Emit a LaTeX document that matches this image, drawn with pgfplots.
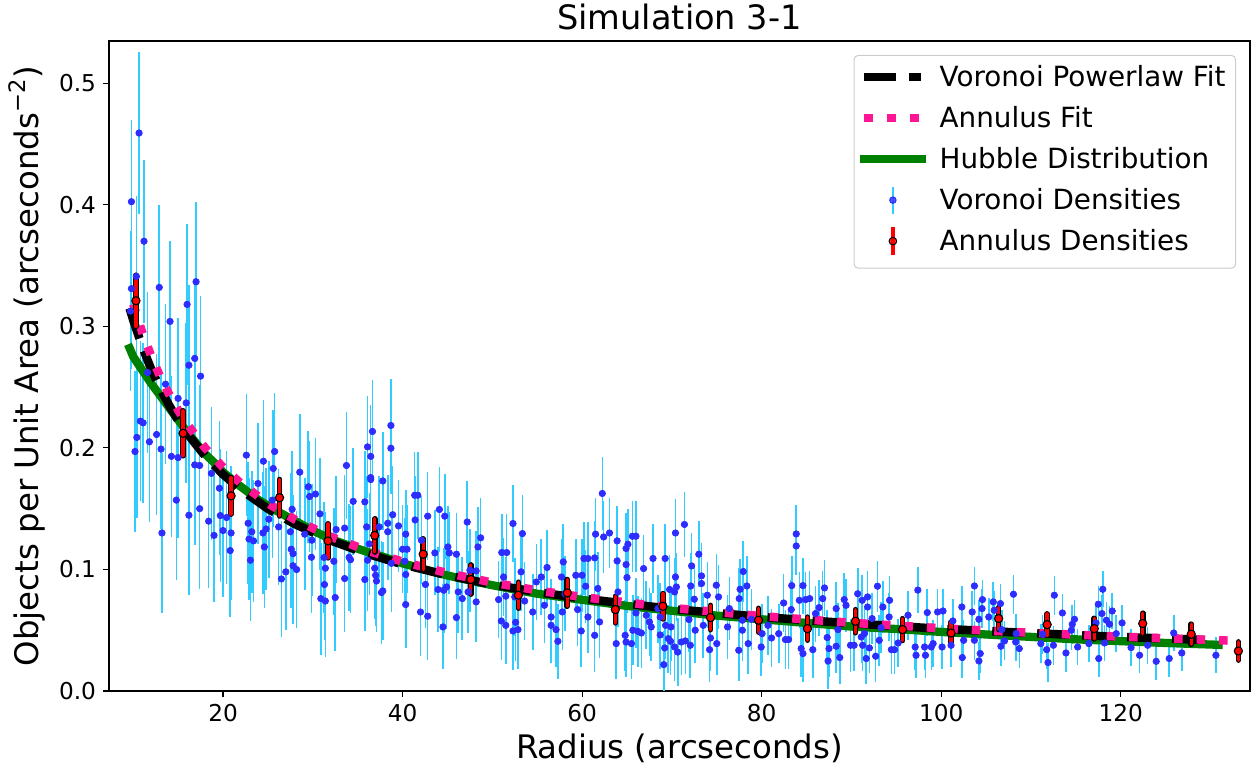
\documentclass[border=0pt]{standalone}
\usepackage{fontspec}
\setmainfont{DejaVu Sans}
\usepackage{pgfplots}
\usepackage{pgfplotstable}
\pgfplotsset{compat=1.18}
\definecolor{dsb}{RGB}{51,204,255}
\definecolor{mblue}{RGB}{45,45,255}
\definecolor{dpink}{RGB}{255,20,147}
\definecolor{dgreen}{RGB}{0,128,0}
\pgfplotsset{
  vbars/.style={/pgfplots/error bars/draw error bar/.code 2 args={\draw[dsb, line width=0.8pt, line cap=butt] ##1 -- ##2;}},
  kbars/.style={/pgfplots/error bars/draw error bar/.code 2 args={\draw[black, line width=2.8pt, line cap=round] ##1 -- ##2;}},
  rbars/.style={/pgfplots/error bars/draw error bar/.code 2 args={\draw[red, line width=1.7pt, line cap=round] ##1 -- ##2;}},
}

\pgfplotstableread{
x y e
9.7 0.3125 0.066
9.8 0.331 0.066
9.8 0.4025 0.067
10.2 0.197 0.066
10.35 0.341 0.066
10.4 0.2086 0.066
10.65 0.459 0.067
10.8 0.222 0.066
11.1 0.2206 0.066
11.2 0.370 0.067
11.6 0.262 0.066
11.8 0.205 0.066
12.6 0.211 0.066
12.9 0.332 0.068
13.1 0.199 0.066
13.2 0.130 0.066
13.6 0.2524 0.066
14.1 0.304 0.066
14.25 0.193 0.066
14.8 0.157 0.066
15.0 0.2407 0.066
15.0 0.192 0.066
15.9 0.237 0.066
16.0 0.318 0.066
16.2 0.268 0.066
16.2 0.1446 0.066
16.85 0.2736 0.066
16.85 0.186 0.066
17.0 0.3366 0.066
17.4 0.1855 0.066
17.4 0.150 0.066
17.5 0.259 0.066
18.7 0.179 0.055
18.4 0.1397 0.055
19.0 0.128 0.055
19.6 0.1668 0.055
19.7 0.1443 0.055
20.0 0.132 0.055
20.4 0.1427 0.055
20.8 0.1155 0.055
20.9 0.130 0.055
22.6 0.194 0.05
22.8 0.138 0.05
22.9 0.125 0.05
23.05 0.1076 0.05
23.2 0.131 0.05
23.4 0.1235 0.05
23.9 0.1707 0.05
24.45 0.130 0.05
24.5 0.189 0.05
24.6 0.1185 0.05
24.8 0.1333 0.05
25.1 0.1413 0.048
25.5 0.157 0.048
25.6 0.183 0.048
25.75 0.197 0.048
26.2 0.135 0.048
26.5 0.0922 0.048
27.0 0.098 0.048
27.5 0.131 0.048
27.6 0.1166 0.048
27.7 0.1495 0.048
27.8 0.113 0.048
27.8 0.103 0.048
28.2 0.0999 0.048
28.55 0.180 0.048
29.1 0.129 0.046
29.5 0.168 0.046
29.65 0.160 0.046
29.85 0.110 0.046
29.9 0.124 0.046
30.3 0.162 0.046
30.8 0.1457 0.046
30.9 0.076 0.046
31.25 0.1098 0.046
31.3 0.0876 0.046
31.4 0.101 0.046
31.4 0.074 0.046
32.35 0.1067 0.044
32.5 0.0769 0.044
32.6 0.1328 0.044
33.55 0.134 0.044
33.55 0.0925 0.044
33.75 0.1855 0.044
34.05 0.110 0.044
34.2 0.108 0.044
34.5 0.156 0.044
35.8 0.1556 0.042
35.8 0.0917 0.042
36.0 0.135 0.042
36.1 0.2008 0.042
36.1 0.1076 0.042
36.3 0.121 0.042
36.45 0.193 0.042
36.45 0.1756 0.042
36.45 0.174 0.042
36.65 0.2135 0.042
36.9 0.101 0.042
37.0 0.0952 0.042
37.1 0.0905 0.042
37.4 0.135 0.042
37.65 0.081 0.042
37.8 0.1728 0.040
37.8 0.0823 0.040
38.35 0.138 0.040
38.35 0.131 0.040
38.7 0.2184 0.038
38.7 0.1997 0.038
38.75 0.105 0.040
38.9 0.145 0.040
39.55 0.1358 0.038
40.0 0.1166 0.036
40.25 0.1067 0.036
40.35 0.129 0.036
40.35 0.0958 0.036
40.35 0.0711 0.036
40.5 0.1166 0.036
41.35 0.161 0.036
41.7 0.161 0.036
41.4 0.1407 0.036
42.0 0.065 0.036
42.1 0.124 0.036
42.55 0.0876 0.036
42.8 0.1438 0.036
42.8 0.0615 0.036
43.6 0.1136 0.035
43.95 0.0835 0.035
44.1 0.1493 0.035
44.5 0.0527 0.035
44.6 0.0829 0.035
44.7 0.1438 0.035
44.9 0.0856 0.035
45.05 0.1185 0.034
45.2 0.1136 0.034
46.0 0.1125 0.034
46.0 0.0604 0.034
46.2 0.0815 0.034
46.65 0.076 0.034
47.2 0.139 0.034
47.3 0.0815 0.034
47.5 0.0993 0.034
48.2 0.0988 0.033
48.2 0.0733 0.033
48.4 0.1185 0.033
48.7 0.126 0.033
50.7 0.0752 0.032
51.0 0.0576 0.032
51.05 0.1139 0.032
51.25 0.0938 0.032
51.5 0.078 0.032
51.5 0.054 0.032
51.6 0.1139 0.032
52.3 0.1378 0.032
52.3 0.0494 0.032
52.5 0.0774 0.032
52.6 0.0565 0.032
52.85 0.0505 0.032
53.2 0.098 0.032
53.35 0.1295 0.032
53.6 0.074 0.032
54.5 0.065 0.031
54.9 0.0897 0.031
55.45 0.0938 0.031
55.8 0.0705 0.031
56.1 0.1016 0.031
56.55 0.0609 0.031
56.55 0.054 0.031
57.1 0.0505 0.031
57.3 0.0409 0.031
57.7 0.0938 0.031
57.8 0.065 0.031
57.9 0.1062 0.031
58.1 0.080 0.031
59.3 0.0952 0.030
59.5 0.067 0.030
59.9 0.0494 0.030
60.0 0.0952 0.030
60.2 0.109 0.030
60.4 0.0862 0.030
60.65 0.109 0.030
60.65 0.0609 0.030
61.4 0.1095 0.030
61.4 0.0458 0.030
61.5 0.129 0.030
61.75 0.0843 0.030
61.95 0.0568 0.030
62.25 0.1625 0.030
62.4 0.1267 0.030
63.05 0.130 0.029
63.8 0.039 0.029
63.9 0.1235 0.029
63.9 0.107 0.029
64.0 0.0815 0.029
64.8 0.0458 0.029
64.9 0.0403 0.029
64.9 0.104 0.029
64.9 0.1172 0.029
65.0 0.0933 0.029
65.1 0.1207 0.029
65.5 0.039 0.029
65.6 0.1273 0.029
65.65 0.050 0.029
66.0 0.1273 0.029
66.0 0.0642 0.029
66.2 0.0491 0.029
66.6 0.0477 0.029
66.85 0.1007 0.028
67.15 0.0623 0.028
67.5 0.0568 0.028
67.7 0.0527 0.028
67.9 0.109 0.028
68.45 0.0678 0.028
68.7 0.0609 0.028
68.7 0.0461 0.028
69.1 0.0217 0.028
69.2 0.0354 0.028
69.25 0.109 0.028
69.3 0.054 0.028
69.6 0.0431 0.028
69.75 0.0835 0.028
69.85 0.0409 0.028
69.9 0.0527 0.028
70.3 0.0362 0.028
70.3 0.0815 0.028
70.4 0.130 0.028
70.4 0.0938 0.028
70.5 0.0856 0.028
70.65 0.032 0.028
71.05 0.0403 0.027
71.4 0.137 0.027
71.5 0.0412 0.027
71.9 0.0588 0.027
72.05 0.0376 0.027
72.1 0.0864 0.027
72.2 0.1029 0.027
72.5 0.0755 0.027
72.6 0.050 0.027
73.0 0.1125 0.027
73.3 0.0947 0.027
73.3 0.0884 0.027
73.5 0.054 0.027
73.95 0.0788 0.027
74.2 0.034 0.027
74.3 0.0436 0.027
74.95 0.087 0.026
75.0 0.039 0.026
75.2 0.0774 0.026
76.2 0.0527 0.026
76.4 0.0678 0.026
77.45 0.0335 0.025
77.5 0.076 0.025
77.6 0.0837 0.025
77.85 0.0582 0.025
77.85 0.050 0.025
77.95 0.0983 0.025
78.35 0.0864 0.025
78.5 0.039 0.025
78.85 0.059 0.025
79.95 0.0362 0.024
80.05 0.0472 0.024
80.7 0.054 0.024
81.1 0.0436 0.024
81.9 0.0472 0.024
82.45 0.0724 0.024
82.65 0.0423 0.024
83.0 0.0423 0.024
83.3 0.067 0.024
83.35 0.0867 0.024
83.85 0.1193 0.024
83.85 0.1292 0.024
84.2 0.0746 0.023
84.4 0.0349 0.023
84.6 0.0867 0.023
84.6 0.0308 0.023
84.9 0.0752 0.023
85.35 0.076 0.023
85.7 0.034 0.023
86.0 0.0637 0.023
86.4 0.0686 0.023
86.8 0.076 0.023
87.0 0.0848 0.023
87.3 0.044 0.023
87.4 0.0247 0.023
87.5 0.0349 0.023
88.3 0.0678 0.022
88.3 0.0368 0.022
88.5 0.0505 0.022
88.7 0.0275 0.022
89.2 0.0752 0.022
89.4 0.0705 0.022
89.9 0.0376 0.022
90.3 0.0376 0.021
90.7 0.080 0.021
91.1 0.0444 0.021
91.2 0.0746 0.021
91.25 0.0376 0.021
91.45 0.0472 0.021
91.65 0.0267 0.021
91.8 0.0691 0.021
91.8 0.0774 0.021
92.0 0.0354 0.021
92.3 0.0596 0.021
92.7 0.0286 0.021
92.9 0.0862 0.021
93.1 0.0417 0.021
93.3 0.052 0.021
93.5 0.0691 0.021
94.2 0.0609 0.020
94.25 0.0746 0.020
94.45 0.034 0.020
94.8 0.034 0.020
95.2 0.0395 0.020
96.3 0.0623 0.020
97.1 0.0362 0.019
97.2 0.0294 0.019
97.4 0.083 0.019
98.15 0.0362 0.019
98.25 0.0294 0.019
98.45 0.0645 0.019
98.9 0.0362 0.019
99.1 0.039 0.019
99.6 0.065 0.019
100.1 0.0362 0.018
100.2 0.0658 0.018
101.1 0.0376 0.018
101.3 0.0576 0.018
102.3 0.0691 0.017
102.35 0.0275 0.017
102.5 0.0417 0.017
103.45 0.065 0.017
103.7 0.0864 0.016
103.7 0.0417 0.016
104.2 0.059 0.016
104.2 0.0247 0.016
104.35 0.0308 0.016
104.55 0.0678 0.016
104.6 0.0752 0.016
105.3 0.0609 0.016
105.8 0.0733 0.016
105.9 0.0664 0.016
106.6 0.0719 0.016
106.65 0.0368 0.016
106.75 0.0505 0.016
107.05 0.0412 0.016
108.05 0.0796 0.016
108.3 0.0403 0.016
108.35 0.0472 0.016
108.7 0.0349 0.016
111.1 0.039 0.016
111.3 0.0467 0.016
111.75 0.034 0.016
111.9 0.0234 0.016
112.5 0.0376 0.016
112.6 0.0788 0.016
113.5 0.0642 0.016
113.9 0.0313 0.016
114.5 0.050 0.016
114.6 0.0549 0.016
114.85 0.059 0.016
115.2 0.0362 0.015
116.45 0.039 0.015
117.25 0.056 0.015
117.5 0.0714 0.015
117.55 0.0267 0.015
117.9 0.0637 0.015
118.0 0.0837 0.015
118.2 0.0395 0.015
118.4 0.0582 0.015
118.75 0.0549 0.015
119.05 0.0658 0.015
119.5 0.0472 0.015
120.15 0.056 0.015
121.15 0.0357 0.015
122.1 0.0294 0.015
123.0 0.0376 0.015
123.95 0.0244 0.015
125.4 0.0267 0.015
125.9 0.0477 0.015
126.8 0.0313 0.015
130.6 0.0294 0.015
}\voronoi

\pgfplotstableread{
x y e
10.3 0.321 0.021
15.55 0.212 0.0185
20.9 0.1605 0.015
26.3 0.159 0.015
31.7 0.1235 0.014
36.9 0.128 0.0137
42.3 0.1125 0.0127
47.6 0.0917 0.012
52.9 0.0788 0.0107
58.35 0.0807 0.011
63.7 0.067 0.011
69.0 0.0697 0.0104
74.3 0.0604 0.010
79.65 0.0582 0.0098
85.1 0.0513 0.0095
90.45 0.0574 0.0095
95.7 0.0505 0.009
101.1 0.0477 0.009
106.4 0.0596 0.009
111.8 0.0546 0.0088
117.05 0.0513 0.0085
122.45 0.0555 0.0085
127.85 0.0467 0.0083
133.1 0.0329 0.0075
}\annulus

\pgfplotstableread{
x y
9.6 0.3148
10 0.3050
11 0.2833
12 0.2648
13 0.2489
14 0.2350
15 0.2228
16 0.2119
18 0.1934
20 0.1782
22 0.1656
25 0.1499
28 0.1373
32 0.1238
36 0.1130
40 0.1042
45 0.0951
50 0.0876
55 0.0814
60 0.0761
70 0.0675
80 0.0609
90 0.0556
100 0.0512
110 0.0476
120 0.0445
130.5 0.0417
}\powerfit

\pgfplotstableread{
x y
10 0.3182
11 0.2951
12 0.2755
13 0.2586
14 0.2439
15 0.2310
16 0.2195
18 0.2000
20 0.1840
22 0.1707
25 0.1543
28 0.1411
32 0.1269
36 0.1157
40 0.1064
45 0.0970
50 0.0892
55 0.0828
60 0.0773
70 0.0684
80 0.0616
90 0.0561
100 0.0516
110 0.0479
120 0.0447
133 0.0412
}\annfit

\pgfplotstableread{
x y
9.6 0.282
10 0.275
11 0.264
12 0.253
13 0.243
14 0.233
15 0.223
16 0.213
17 0.204
18 0.195
19 0.188
20 0.180
22 0.168
24 0.157
26 0.148
28 0.140
30 0.132
32 0.125
35 0.117
38 0.110
40 0.105
45 0.095
50 0.087
55 0.080
60 0.075
65 0.070
70 0.066
75 0.062
80 0.059
85 0.056
90 0.053
95 0.051
100 0.0486
105 0.0465
110 0.0445
115 0.0425
120 0.041
125 0.0395
130.9 0.038
}\hubble

\begin{document}
\begin{tikzpicture}
\begin{axis}[
  scale only axis, width=570.5pt, height=325pt,
  xmin=7.3, xmax=134.4, ymin=0, ymax=0.5347,
  xtick={20,40,60,80,100,120},
  ytick={0,0.1,0.2,0.3,0.4,0.5},
  tick pos=left,
  tick align=outside, major tick length=3pt,
  every tick/.style={black, line width=0.6pt},
  axis line style={black, line width=0.7pt},
  /pgf/number format/assume math mode=true,
  tick label style={font=\fontsize{11.6}{13}\selectfont},
  yticklabel style={/pgf/number format/.cd, fixed, fixed zerofill, precision=1},
  label style={font=\fontsize{16.2}{19}\selectfont},
  xlabel={Radius (arcseconds)},
  ylabel={Objects per Unit Area (arcseconds\textsuperscript{−2})},
  xlabel style={at={(axis description cs:0.5,-0.10354)}, anchor=base},
  ylabel style={at={(axis description cs:-0.06223,0.5)}, anchor=base},
  title={Simulation 3-1},
  every axis title shift=0pt,
  title style={at={(axis description cs:0.5,1)}, anchor=base, yshift=5.7pt, font=\fontsize{16.8}{20}\selectfont},
  legend cell align=left,
  legend style={at={(1,1)}, anchor=north east, xshift=-7pt, yshift=-7pt,
    draw=black!20, fill=white, fill opacity=0.8, text opacity=1,
    rounded corners=2pt, line width=0.5pt,
    inner xsep=3pt, inner ysep=3pt, row sep=2.15pt, column sep=5pt,
    font=\fontsize{13.9}{16}\selectfont,
    nodes={inner sep=2pt, text height=10.5pt, text depth=3.85pt}},
]
% Voronoi densities: error bars
\addplot[forget plot, dsb, only marks, mark=*, mark size=0.01pt,
  mark options={draw=none, fill=none}, vbars,
  error bars/.cd, y dir=both, y explicit]
  table[x=x, y=y, y error=e] {\voronoi};
% Voronoi densities: markers
\addplot[forget plot, mblue, only marks, mark=*, mark size=1.6pt,
  mark options={fill=mblue, draw=none}]
  table[x=x, y=y] {\voronoi};
% Hubble distribution
\addplot[forget plot, dgreen, line width=4.15pt, line cap=rect, no marks] table[x=x,y=y] {\hubble};
% Voronoi powerlaw fit
\addplot[forget plot, black, line width=4.25pt, dash pattern=on 15.85pt off 6.65pt, no marks] table[x=x,y=y] {\powerfit};
% Annulus fit
\addplot[forget plot, dpink, line width=4.25pt, dash pattern=on 4.25pt off 7pt, no marks] table[x=x,y=y] {\annfit};
% Annulus densities: dark outline of the bars
\addplot[forget plot, black, only marks, mark=*, mark size=0.01pt, mark options={draw=none, fill=none},
  kbars, error bars/.cd, y dir=both, y explicit]
  table[x=x, y=y, y error=e] {\annulus};
\addplot[forget plot, red, only marks, mark=*, mark size=2.05pt,
  mark options={fill=red, draw=black, line width=0.55pt},
  rbars, error bars/.cd, y dir=both, y explicit]
  table[x=x, y=y, y error=e] {\annulus};

\addlegendimage{legend image code/.code={\draw[black, line width=4.25pt, dash pattern=on 15.85pt off 6.65pt] (0pt,1.35pt) -- (28.5pt,1.35pt);}}
\addlegendentry{Voronoi Powerlaw Fit}
\addlegendimage{legend image code/.code={\draw[dpink, line width=4.25pt, dash pattern=on 4.35pt off 7pt] (0pt,1.35pt) -- (28.5pt,1.35pt);}}
\addlegendentry{Annulus Fit}
\addlegendimage{legend image code/.code={\draw[dgreen, line width=4.15pt, line cap=rect] (0pt,1.35pt) -- (28.5pt,1.35pt);}}
\addlegendentry{Hubble Distribution}
\addlegendimage{legend image code/.code={\draw[dsb, line width=0.75pt] (14.25pt,-5.4pt) -- (14.25pt,8.1pt); \fill[mblue] (14.25pt,1.35pt) circle (1.6pt);}}
\addlegendentry{Voronoi Densities}
\addlegendimage{legend image code/.code={\draw[red, line width=1.6pt] (14.25pt,-5.65pt) -- (14.25pt,8.35pt); \filldraw[fill=red, draw=black, line width=0.5pt] (14.25pt,1.35pt) circle (1.9pt);}}
\addlegendentry{Annulus Densities}
\end{axis}
\pgfresetboundingbox
\path ([shift={(-54.5pt,-39pt)}]current axis.south west) rectangle ([shift={(3pt,20.5pt)}]current axis.north east);
\end{tikzpicture}
\end{document}
